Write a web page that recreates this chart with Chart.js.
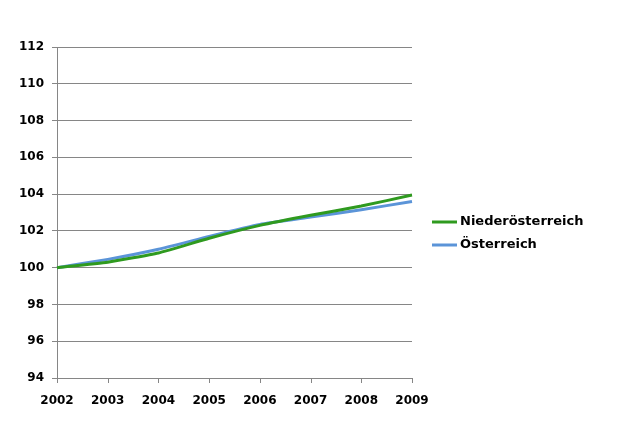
<!DOCTYPE html>
<html>
<head>
<meta charset="utf-8">
<script src="https://cdn.jsdelivr.net/npm/chart.js@4"></script>
<style>
  html, body { margin: 0; padding: 0; background: #fff; }
  #wrap { width: 631px; height: 432px; }
</style>
</head>
<body>
<div id="wrap"><canvas id="chart"></canvas></div>
<script>
const years = ['2002', '2003', '2004', '2005', '2006', '2007', '2008', '2009'];
const noe = [100, 100.3, 100.8, 101.6, 102.3, 102.85, 103.35, 103.95];
const oe = [100, 100.45, 101.0, 101.7, 102.35, 102.75, 103.15, 103.6];

const font = { family: 'DejaVu Sans', size: 12, weight: 'bold' };

// legend drawn at fixed spot to the right of the plot
const sideLegend = {
    id: 'sideLegend',
    afterDraw(chart) {
        const ctx = chart.ctx;
        ctx.save();
        ctx.font = 'bold 13px "DejaVu Sans"';
        ctx.textBaseline = 'middle';
        chart.data.datasets.forEach(function(ds, i) {
            const y = 222 + i * 23;
            ctx.strokeStyle = ds.borderColor;
            ctx.lineWidth = 3;
            ctx.beginPath();
            ctx.moveTo(432, y);
            ctx.lineTo(457, y);
            ctx.stroke();
            ctx.fillStyle = '#000';
            ctx.fillText(ds.label, 460, y);
        });
        ctx.restore();
    }
};

const ctx = document.getElementById('chart').getContext('2d');
const chart = new Chart(ctx, {
    type: 'line',
    data: {
        labels: years,
        datasets: [
            {
                label: 'Niederösterreich',
                data: noe,
                borderColor: '#2f9a1f',
                borderWidth: 3,
                pointRadius: 0,
                tension: 0.15,
                fill: false
            },
            {
                label: 'Österreich',
                data: oe,
                borderColor: '#5b94d8',
                borderWidth: 3,
                pointRadius: 0,
                tension: 0.15,
                fill: false
            }
        ]
    },
    options: {
        responsive: true,
        maintainAspectRatio: false,
        animation: false,
        layout: { padding: { left: 0, top: 47, right: 219, bottom: 0 } },
        plugins: {
            legend: { display: false },
            tooltip: { enabled: false }
        },
        scales: {
            x: {
                offset: false,
                afterFit: function(scale) { scale.height = 54; },
                grid: { display: false, drawOnChartArea: false },
                border: { color: '#868686', width: 1 },
                ticks: { color: '#000', font: font, padding: 8, maxRotation: 0 }
            },
            y: {
                min: 94,
                max: 112,
                afterFit: function(scale) { scale.width = 57; },
                ticks: { stepSize: 2, color: '#000', font: font, padding: 8 },
                grid: { color: '#868686', tickLength: 5 },
                border: { color: '#868686', width: 1 }
            }
        }
    },
    plugins: [sideLegend, {
        id: 'xTicks',
        afterDraw(chart) {
            // small downward tick marks under the x axis
            const c = chart.ctx, xs = chart.scales.x, b = chart.chartArea.bottom;
            c.save();
            c.strokeStyle = '#868686';
            c.lineWidth = 1;
            years.forEach(function(y, i) {
                const px = Math.round(xs.getPixelForValue(i)) + 0.5;
                c.beginPath();
                c.moveTo(px, b);
                c.lineTo(px, b + 5);
                c.stroke();
            });
            c.restore();
        }
    }]
});
</script>
</body>
</html>
